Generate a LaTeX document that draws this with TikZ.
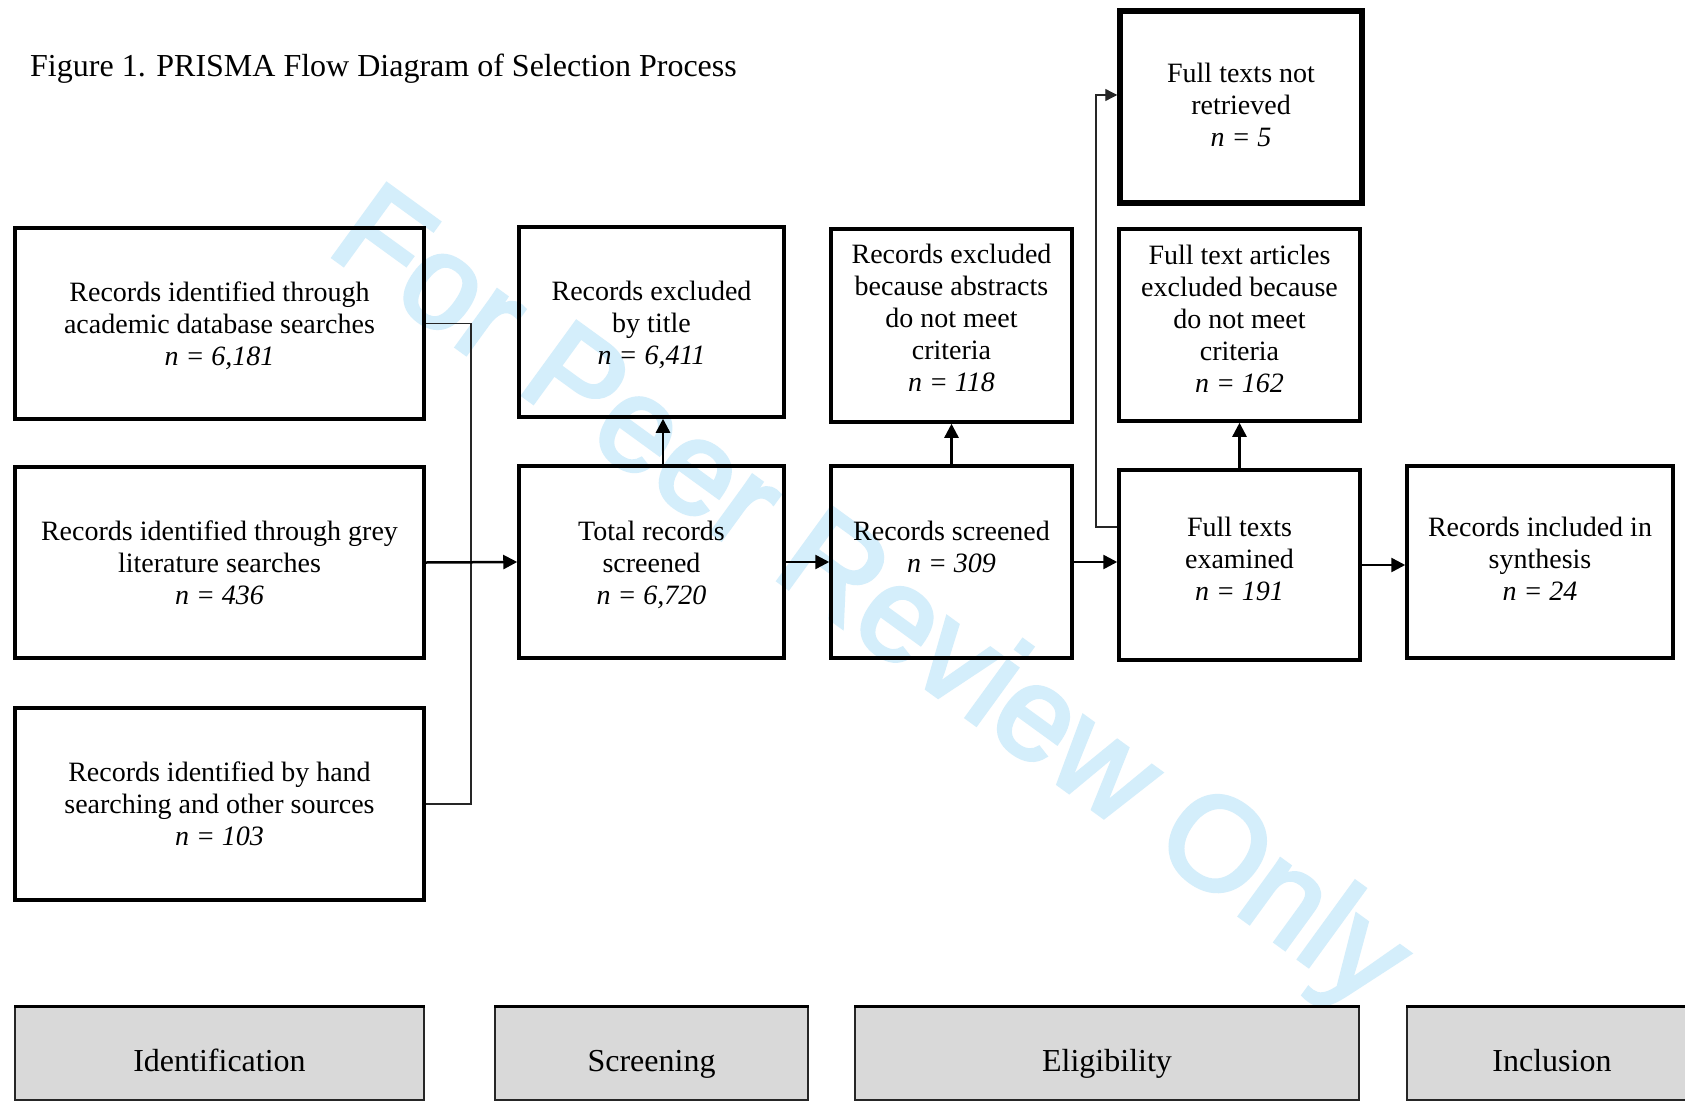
\documentclass[tikz,border=0pt]{standalone}
\usepackage{fontspec}
\setmainfont{Liberation Serif}
\newfontfamily\wmfont[FakeBold=3]{Liberation Sans}
\usetikzlibrary{arrows.meta}
\definecolor{wm}{RGB}{212,238,251}
\definecolor{phase}{RGB}{217,217,217}
\begin{document}
\begin{tikzpicture}[x=1pt,y=-1pt,
  box/.style={draw, line width=3.5pt, inner sep=0pt},
  thickbox/.style={box, line width=5.5pt},
  txt/.style={inner sep=0pt, align=center, font=\fontsize{28}{32}\selectfont},
  phasebox/.style={draw=black!85, line width=1.5pt, fill=phase, inner sep=0pt, font=\fontsize{32}{38}\selectfont, text height=40pt, text depth=5pt},
  arr/.style={line width=2.5pt, -{Triangle[length=14pt,width=14pt]}},
  thinarr/.style={line width=1.3pt, black!85, -{Triangle[length=12pt,width=12pt]}},
  thinline/.style={line width=1.3pt, black!85},
]
\useasboundingbox (0,0) rectangle (1685,1102);
\clip (0,0) rectangle (1685,1102);
\fill[white] (0,0) rectangle (1685,1102);
% watermark
\node[rotate=-36, text=wm, font=\wmfont\fontsize{132}{132}\selectfont, inner sep=0pt] (wmk) at (867,603) {For Peer Review Only};
% title
\node[anchor=base west, inner sep=0pt, font=\fontsize{32}{38}\selectfont] (title) at (30,77) {Figure 1. PRISMA Flow Diagram of Selection Process};
% identification boxes
\node[box, minimum width=409, minimum height=191] (A) at (219.5,323.5) {};
\node[txt] (At) at (219.5,325.5) {Records identified through\\academic database searches\\\textit{n = 6,181}};
\node[box, minimum width=409, minimum height=191] (B) at (219.5,562.5) {};
\node[txt] (Bt) at (219.5,562.5) {Records identified through grey\\literature searches\\\textit{n = 436}};
\node[box, minimum width=409, minimum height=192] (C) at (219.5,804) {};
\node[txt] (Ct) at (219.5,804) {Records identified by hand\\searching and other sources\\\textit{n = 103}};
% screening
\node[box, minimum width=265, minimum height=190] (T) at (651.5,322) {};
\node[txt] (Tt) at (651.5,325) {Records excluded\\by title\\\textit{n = 6,411}};
\node[box, minimum width=265, minimum height=192] (S) at (651.5,562) {};
\node[txt] (St) at (651.5,565) {Total records\\screened\\\textit{n = 6,720}};
% eligibility
\node[box, minimum width=241, minimum height=193] (E) at (951.5,325.5) {};
\node[txt] (Et) at (951.5,318) {Records excluded\\because abstracts\\do not meet\\criteria\\\textit{n = 118}};
\node[box, minimum width=241, minimum height=192] (R) at (951.5,562) {};
\node[txt] (Rt) at (951.5,547) {Records screened\\\textit{n = 309}};
\node[thickbox, minimum width=242, minimum height=192] (N) at (1241,107) {};
\node[txt] (Nt) at (1241,105) {Full texts not\\retrieved\\\textit{n = 5}};
\node[box, minimum width=241, minimum height=192] (F) at (1239.5,325) {};
\node[txt] (Ft) at (1239.5,318.5) {Full text articles\\excluded because\\do not meet\\criteria\\\textit{n = 162}};
\node[box, minimum width=241, minimum height=190] (X) at (1239.5,565) {};
\node[txt] (Xt) at (1239.5,558.5) {Full texts\\examined\\\textit{n = 191}};
% inclusion
\node[box, minimum width=266, minimum height=192] (I) at (1540,562) {};
\node[txt] (It) at (1540,559) {Records included in\\synthesis\\\textit{n = 24}};
% connectors
\coordinate (J) at (471,563);
\draw[thinline] (A.east) -| (J) |- (C.east);
\draw[arr] (B.east) -- (S.west);
\draw[arr] ([xshift=11.5pt]S.north) -- ([xshift=11.5pt]T.south);
\draw[arr] (S.east) -- (R.west);
\draw[arr] (R.north) -- (E.south);
\draw[arr] (R.east) -- (R.east -| X.west);
\draw[arr] (X.north) -- (F.south);
\coordinate (K) at (1096,300);
\draw[thinarr] ([yshift=38pt]X.west) -| (K) |- ([yshift=12pt]N.west);
\draw[arr] (X.east) -- (X.east -| I.west);
% phase boxes
\node[phasebox, minimum width=409, minimum height=93] (P1) at (219.5,1053.5) {Identification};
\node[phasebox, minimum width=313, minimum height=93] (P2) at (651.5,1053.5) {Screening};
\node[phasebox, minimum width=504, minimum height=93] (P3) at (1107,1053.5) {Eligibility};
\node[phasebox, minimum width=290, minimum height=93] (P4) at (1552,1053.5) {Inclusion};
\foreach \p in {P1,P2,P3,P4} \draw[line width=3.5pt] (\p.north west) -- (\p.north east);
\end{tikzpicture}
\end{document}
